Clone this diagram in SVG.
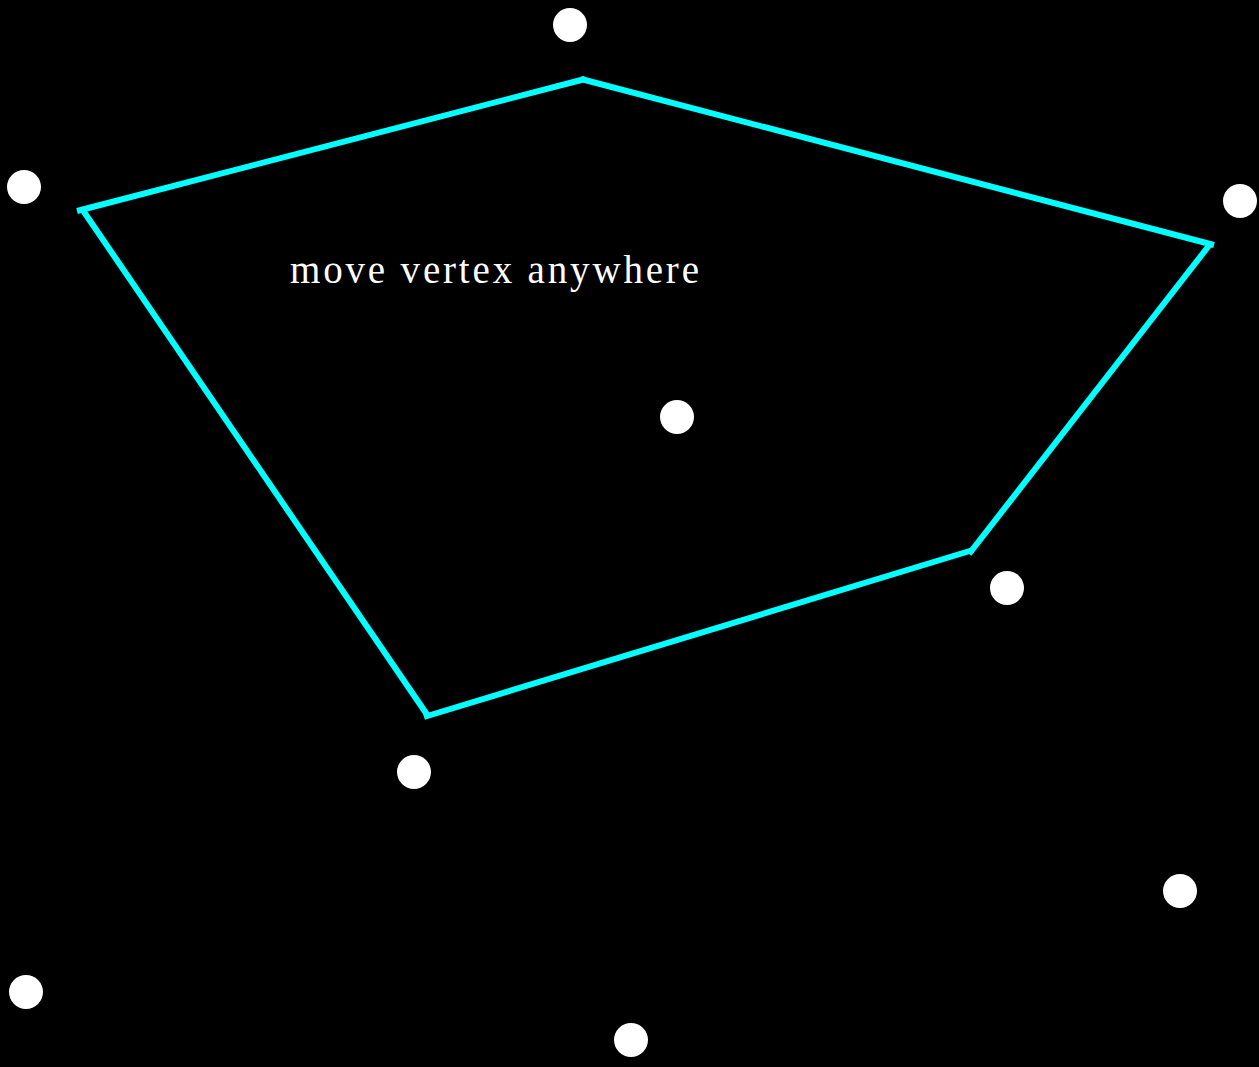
<svg xmlns="http://www.w3.org/2000/svg" width="1259" height="1067" viewBox="0 0 1259 1067">
<style>
.edge{stroke:#00ffff;stroke-width:6;stroke-linecap:butt;fill:none}
.dot{fill:#ffffff}
.lbl{font-family:"Liberation Serif","DejaVu Serif",serif;font-size:39px;fill:#ffffff}
</style>
<rect width="1259" height="1067" fill="#000000"/>
<g id="connectors">
<line class="edge" x1="77" y1="211" x2="585" y2="79"/>
<line class="edge" x1="581" y1="79" x2="1214" y2="245"/>
<line class="edge" x1="1211" y1="243" x2="969" y2="554"/>
<line class="edge" x1="973" y1="550" x2="424" y2="717"/>
<line class="edge" x1="428" y1="716" x2="82" y2="209"/>
</g>
<g id="dots">
<circle id="n1" class="dot" cx="570" cy="25" r="17"/>
<circle id="n2" class="dot" cx="24" cy="187" r="17"/>
<circle id="n3" class="dot" cx="1240" cy="201" r="17"/>
<circle id="n4" class="dot" cx="677" cy="417" r="17"/>
<circle id="n5" class="dot" cx="1007" cy="588" r="17"/>
<circle id="n6" class="dot" cx="414" cy="772" r="17"/>
<circle id="n7" class="dot" cx="1180" cy="891" r="17"/>
<circle id="n8" class="dot" cx="26" cy="992" r="17"/>
<circle id="n9" class="dot" cx="631" cy="1040" r="17"/>
</g>
<g id="label">
<text class="lbl" x="290" y="283" textLength="409" lengthAdjust="spacing">move vertex anywhere</text>
</g>
</svg>
